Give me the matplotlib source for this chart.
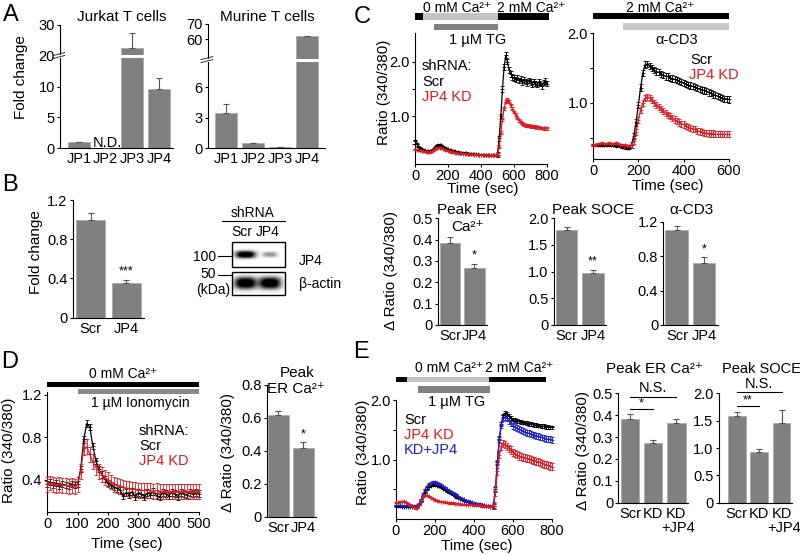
import numpy as np
import matplotlib
matplotlib.use('Agg')
import matplotlib.pyplot as plt
from matplotlib.patches import Rectangle
from matplotlib.transforms import blended_transform_factory

plt.rcParams['font.family'] = ['Liberation Sans', 'DejaVu Sans']
plt.rcParams['axes.linewidth'] = 0.8

# ---------------- data ----------------
jp_labels = ['JP1', 'JP2', 'JP3', 'JP4']
jurkat_vals = [1.0, 0.0, 22.4, 9.6]
jurkat_err = [0.08, 0.0, 4.8, 1.8]
murine_vals = [3.44, 0.50, 0.10, 62.0]
murine_err = [0.95, 0.05, 0.02, 0.4]

two_labels = ['Scr', 'JP4']
b_vals = [1.0, 0.35]
b_err = [0.07, 0.035]
blot_jp4 = [1.0, 0.35]
blot_actin = [1.0, 1.0]

c_er_vals = [0.386, 0.266]
c_er_err = [0.025, 0.02]
c_soce_vals = [1.77, 0.98]
c_soce_err = [0.07, 0.05]
c_cd3_vals = [1.10, 0.72]
c_cd3_err = [0.05, 0.07]

d_bar_vals = [0.62, 0.42]
d_bar_err = [0.025, 0.035]

three_labels = ['Scr', 'KD', 'KD']
three_sub = '+JP4'
e_er_vals = [0.381, 0.271, 0.363]
e_er_err = [0.024, 0.016, 0.018]
e_soce_vals = [1.59, 0.92, 1.45]
e_soce_err = [0.06, 0.06, 0.25]

# traces (10 s sampling)
t_c1 = np.arange(0, 801, 10)
c1_scr = [0.56, 0.50, 0.45, 0.42, 0.40, 0.39, 0.38, 0.37, 0.37, 0.37,
          0.38, 0.40, 0.43, 0.46, 0.48, 0.48, 0.47, 0.45, 0.43, 0.41,
          0.40, 0.39, 0.38, 0.37, 0.36, 0.35, 0.35, 0.34, 0.34, 0.33,
          0.33, 0.33, 0.32, 0.32, 0.32, 0.31, 0.31, 0.31, 0.31, 0.30,
          0.30, 0.30, 0.30, 0.30, 0.29, 0.29, 0.29, 0.29, 0.29, 0.29,
          0.30, 0.60, 1.00, 1.50, 1.90, 2.12, 2.00, 1.85, 1.78, 1.72,
          1.70, 1.68, 1.71, 1.66, 1.69, 1.63, 1.67, 1.64, 1.61, 1.66,
          1.63, 1.59, 1.64, 1.60, 1.58, 1.63, 1.60, 1.56, 1.62, 1.65,
          1.60]
c1_kd = [0.40, 0.39, 0.38, 0.37, 0.37, 0.36, 0.36, 0.35, 0.35, 0.35,
         0.36, 0.38, 0.40, 0.42, 0.43, 0.43, 0.42, 0.41, 0.39, 0.38,
         0.37, 0.36, 0.35, 0.35, 0.34, 0.34, 0.33, 0.33, 0.33, 0.32,
         0.32, 0.32, 0.31, 0.31, 0.31, 0.31, 0.30, 0.30, 0.30, 0.30,
         0.30, 0.30, 0.29, 0.29, 0.29, 0.29, 0.29, 0.29, 0.29, 0.29,
         0.30, 0.45, 0.70, 0.95, 1.15, 1.27, 1.31, 1.27, 1.20, 1.14,
         1.08, 1.03, 0.97, 0.93, 0.90, 0.87, 0.85, 0.84, 0.83, 0.83,
         0.82, 0.82, 0.81, 0.81, 0.80, 0.80, 0.79, 0.79, 0.78, 0.78,
         0.78]
c1_err_scr = (0.012, 0.05)
c1_err_kd = (0.01, 0.025)

t_c2 = np.arange(0, 601, 10)
c2_scr = [0.40, 0.40, 0.40, 0.39, 0.40, 0.39, 0.39, 0.40, 0.39, 0.39,
          0.38, 0.39, 0.38, 0.37, 0.36, 0.35, 0.35, 0.40, 0.52, 0.72,
          0.97, 1.22, 1.43, 1.55, 1.56, 1.53, 1.50, 1.47, 1.45, 1.44,
          1.42, 1.40, 1.38, 1.38, 1.36, 1.35, 1.34, 1.33, 1.31, 1.30,
          1.29, 1.27, 1.26, 1.25, 1.24, 1.23, 1.21, 1.20, 1.19, 1.18,
          1.17, 1.15, 1.14, 1.12, 1.11, 1.10, 1.08, 1.07, 1.06, 1.06,
          1.05]
c2_kd = [0.40, 0.40, 0.41, 0.41, 0.42, 0.41, 0.41, 0.42, 0.41, 0.41,
         0.42, 0.41, 0.40, 0.40, 0.39, 0.38, 0.38, 0.40, 0.45, 0.58,
         0.75, 0.90, 1.00, 1.07, 1.09, 1.07, 1.04, 1.00, 0.97, 0.94,
         0.91, 0.88, 0.85, 0.83, 0.81, 0.78, 0.76, 0.74, 0.72, 0.70,
         0.69, 0.67, 0.65, 0.64, 0.63, 0.62, 0.60, 0.59, 0.58, 0.57,
         0.57, 0.56, 0.56, 0.56, 0.55, 0.55, 0.55, 0.55, 0.55, 0.55,
         0.55]
c2_err_scr = (0.015, 0.045)
c2_err_kd = (0.015, 0.045)

t_d = np.arange(0, 501, 10)
d_scr = [0.36, 0.38, 0.35, 0.37, 0.34, 0.36, 0.35, 0.34, 0.36, 0.35,
         0.36, 0.50, 0.78, 0.93, 0.90, 0.72, 0.58, 0.50, 0.45, 0.41,
         0.37, 0.35, 0.33, 0.32, 0.30, 0.25, 0.28, 0.26, 0.29, 0.24,
         0.28, 0.27, 0.24, 0.28, 0.26, 0.29, 0.25, 0.24, 0.28, 0.27,
         0.25, 0.28, 0.27, 0.24, 0.28, 0.27, 0.26, 0.28, 0.27, 0.28,
         0.27]
d_kd = [0.36, 0.37, 0.36, 0.35, 0.36, 0.35, 0.35, 0.34, 0.35, 0.34,
        0.36, 0.48, 0.70, 0.71, 0.64, 0.57, 0.52, 0.48, 0.45, 0.42,
        0.40, 0.38, 0.36, 0.35, 0.34, 0.33, 0.32, 0.32, 0.31, 0.31,
        0.30, 0.30, 0.30, 0.30, 0.30, 0.29, 0.30, 0.29, 0.29, 0.29,
        0.29, 0.29, 0.29, 0.29, 0.29, 0.29, 0.29, 0.29, 0.29, 0.29,
        0.29]
d_err_scr = (0.03, 0.03)
d_err_kd = (0.07, 0.07)

t_e = np.arange(0, 801, 10)
e_scr = [0.22, 0.22, 0.22, 0.21, 0.21, 0.21, 0.21, 0.21, 0.21, 0.21,
         0.21, 0.22, 0.24, 0.30, 0.38, 0.45, 0.50, 0.54, 0.56, 0.57,
         0.57, 0.56, 0.55, 0.53, 0.51, 0.49, 0.47, 0.45, 0.43, 0.41,
         0.39, 0.37, 0.36, 0.34, 0.33, 0.31, 0.30, 0.29, 0.28, 0.27,
         0.26, 0.25, 0.25, 0.24, 0.23, 0.23, 0.22, 0.22, 0.21, 0.21,
         0.22, 0.50, 0.95, 1.35, 1.60, 1.74, 1.78, 1.76, 1.73, 1.70,
         1.67, 1.66, 1.65, 1.64, 1.63, 1.62, 1.62, 1.61, 1.60, 1.60,
         1.59, 1.58, 1.58, 1.57, 1.57, 1.56, 1.56, 1.55, 1.55, 1.54,
         1.54]
e_kd = [0.28, 0.28, 0.29, 0.29, 0.30, 0.28, 0.26, 0.24, 0.22, 0.20,
        0.18, 0.19, 0.24, 0.32, 0.38, 0.40, 0.40, 0.38, 0.36, 0.34,
        0.32, 0.31, 0.30, 0.29, 0.29, 0.28, 0.28, 0.27, 0.27, 0.27,
        0.26, 0.26, 0.26, 0.25, 0.25, 0.25, 0.24, 0.24, 0.24, 0.24,
        0.23, 0.23, 0.23, 0.23, 0.22, 0.22, 0.22, 0.22, 0.21, 0.21,
        0.22, 0.45, 0.80, 1.08, 1.22, 1.27, 1.25, 1.22, 1.19, 1.16,
        1.12, 1.10, 1.08, 1.06, 1.05, 1.04, 1.03, 1.02, 1.01, 1.00,
        0.99, 0.98, 0.97, 0.96, 0.95, 0.94, 0.92, 0.91, 0.90, 0.89,
        0.88]
e_res = [0.23, 0.23, 0.23, 0.22, 0.22, 0.22, 0.22, 0.22, 0.22, 0.22,
         0.22, 0.23, 0.26, 0.33, 0.42, 0.50, 0.55, 0.59, 0.61, 0.62,
         0.62, 0.61, 0.59, 0.57, 0.55, 0.53, 0.50, 0.48, 0.46, 0.44,
         0.42, 0.40, 0.38, 0.36, 0.34, 0.33, 0.31, 0.30, 0.29, 0.28,
         0.27, 0.26, 0.25, 0.25, 0.24, 0.23, 0.23, 0.22, 0.22, 0.21,
         0.22, 0.50, 0.95, 1.35, 1.58, 1.70, 1.72, 1.69, 1.65, 1.61,
         1.57, 1.55, 1.53, 1.51, 1.49, 1.48, 1.46, 1.45, 1.44, 1.43,
         1.42, 1.41, 1.40, 1.39, 1.38, 1.37, 1.36, 1.35, 1.34, 1.34,
         1.33]
e_err_scr = (0.01, 0.03)
e_err_kd = (0.01, 0.06)
e_err_res = (0.012, 0.05)

# protocol timings (sec)
c1_phases = [(0, 48, 'k'), (48, 503, '#c4c4c4'), (503, 810, 'k')]
c1_drug = (115, 503)
c2_phases = [(0, 600, 'k')]
c2_drug = (132, 600)
d_phases = [(0, 500, 'k')]
d_drug = (100, 500)
e_phases = [(0, 55, 'k'), (55, 478, '#c4c4c4'), (478, 769, 'k')]
e_drug = (113, 482)

# ---------------- figure ----------------
W, H = 800, 555
fig = plt.figure(figsize=(W / 100, H / 100), dpi=100)
BAR = '#808080'
RED = '#e3191f'
BLUE = '#1c1cd6'
AX_PX = {}
CA = 'Ca²⁺'


def add_ax(x0, y0, x1, y1):
    ax = fig.add_axes([x0 / W, 1 - y1 / H, (x1 - x0) / W, (y1 - y0) / H])
    AX_PX[id(ax)] = (x0, y0, x1, y1)
    for s in ('top', 'right'):
        ax.spines[s].set_visible(False)
    ax.tick_params(direction='out', length=2.5, width=0.8, labelsize=10.5, pad=1.2)
    ax.patch.set_alpha(0)
    return ax


def ftext(x, y, s, ha='center', va='center', size=10.5, **kw):
    fig.text(x / W, 1 - y / H, s, ha=ha, va=va, fontsize=size, **kw)


def bars(ax, vals, errs, width, xlim, ylim, yticks, yticklabels, xlabels, xsize=10.5):
    x = np.arange(len(vals))
    ax.bar(x, vals, width, color=BAR, edgecolor='#a8a8a8', lw=0.5, zorder=2)
    ax.errorbar(x, vals, yerr=[np.zeros(len(vals)), errs], fmt='none',
                ecolor='#555555', elinewidth=0.8, capsize=2.5, capthick=0.8, zorder=3)
    ax.set_xlim(*xlim)
    ax.set_ylim(*ylim)
    ax.set_yticks(yticks, yticklabels)
    ax.set_xticks(x, xlabels)
    ax.tick_params(axis='x', length=0, pad=3, labelsize=xsize)


def make_err(t, onset, pair):
    return np.where(np.asarray(t) < onset, pair[0], pair[1])


def trace(ax, t, y, err, color):
    ax.errorbar(t, y, yerr=err, color=color, lw=0.9, elinewidth=0.6, capsize=1.2,
                capthick=0.6, marker='+', ms=3, mew=0.6, zorder=3, clip_on=False)


def proto_bar(ax, t0, t1, ytop, ybot, color):
    x0, y0, x1, y1 = AX_PX[id(ax)]
    fb = (y1 - ybot) / (y1 - y0)
    ft = (y1 - ytop) / (y1 - y0)
    tr = blended_transform_factory(ax.transData, ax.transAxes)
    ax.add_patch(Rectangle((t0, fb), t1 - t0, ft - fb, transform=tr,
                           facecolor=color, lw=0, clip_on=False))


def broken_scale(lo_top, hi_bot, ratio):
    xs = [-1000.0, lo_top, hi_bot, 1000.0]
    ys = [-1000.0, lo_top, lo_top + 0.04, lo_top + 0.04 + (1000.0 - hi_bot) * ratio]
    fwd = lambda v: np.interp(v, xs, ys)
    inv = lambda v: np.interp(v, ys, xs)
    return fwd, inv


def break_marks(ax, yb):
    disp = ax.transData.transform((0, yb))
    fy = ax.transAxes.inverted().transform(disp)[1]
    tr = blended_transform_factory(ax.transAxes, ax.transData)
    ax.plot([-0.03, 1.0], [yb, yb], transform=tr, color='white', lw=2.2,
            clip_on=False, zorder=5)
    for dy in (-0.012, 0.012):
        ax.plot([-0.06, 0.04], [fy + dy - 0.012, fy + dy + 0.012], transform=ax.transAxes,
                color='#333333', lw=0.7, clip_on=False, zorder=6)


# ----- Panel A -----
ftext(11, 15, 'A', size=17)
axj = add_ax(60, 24.5, 173, 148.3)
f, i = broken_scale(15, 20, 0.5)
axj.set_yscale('function', functions=(f, i))
bars(axj, jurkat_vals, jurkat_err, 0.82, (-0.71, 3.52), (0, 30),
     [0, 5, 10, 20, 30], ['0', '5', '10', '20', '30'], jp_labels)
break_marks(axj, 17.5)
ftext(107, 143, 'N.D.', size=10.5)
ftext(122, 17, 'Jurkat T cells', size=11)
ftext(21, 77, 'Fold change', size=11, rotation=90)

axm = add_ax(208, 23.5, 325, 148.3)
f, i = broken_scale(8.7, 47.5, 0.157)
axm.set_yscale('function', functions=(f, i))
bars(axm, murine_vals, murine_err, 0.82, (-0.67, 3.67), (0, 70),
     [0, 3, 6, 60, 70], ['0', '3', '6', '60', '70'], jp_labels)
break_marks(axm, 30)
ftext(267, 17, 'Murine T cells', size=11)

# ----- Panel B -----
ftext(10, 185, 'B', size=17)
axb = add_ax(72.5, 200, 144.5, 317.7)
bars(axb, b_vals, b_err, 0.82, (-0.5, 1.5), (0, 1.2),
     [0, 0.4, 0.8, 1.2], ['0', '0.4', '0.8', '1.2'], two_labels)
axb.text(1, b_vals[1] + b_err[1] + 0.03, '***', ha='center', va='bottom', fontsize=9)
ftext(36, 252, 'Fold change', size=11, rotation=90)

# western blot
axw = fig.add_axes([195 / W, 1 - 300 / H, 150 / W, 95 / H])
axw.set_xlim(195, 345)
axw.set_ylim(300, 205)
axw.axis('off')


def blot_box(y0, y1, intens, sx, sy):
    x0, x1 = 232, 285
    xs = np.linspace(x0, x1, 220)
    ys = np.linspace(y0, y1, 110)
    X, Y = np.meshgrid(xs, ys)
    Z = np.zeros_like(X)
    cy = (y0 + y1) / 2
    for cx, inten, w in zip((245.5, 270.0), intens, sx):
        hw = w * (0.6 + 0.4 * inten)
        hh = sy * (0.6 + 0.4 * inten)
        Z += inten * np.exp(-(np.abs((X - cx) / hw) ** 3 + np.abs((Y - cy) / hh) ** 2.5))
    axw.imshow(np.clip(Z, 0, 1), extent=(x0, x1, y1, y0), cmap='gray_r', vmin=0, vmax=0.8,
               aspect='auto', interpolation='bilinear', zorder=1)
    axw.add_patch(Rectangle((x0, y0), x1 - x0, y1 - y0, fill=False, lw=1.0, ec='k', zorder=2))


blot_box(241.7, 266.7, blot_jp4, (10, 10), 3.6)
blot_box(271.7, 295, blot_actin, (11, 11), 5.8)
axw.plot([222, 285], [221, 221], color='k', lw=0.8)
axw.plot([218, 231], [256.5, 256.5], color='k', lw=0.8)
axw.plot([218, 231], [275, 275], color='k', lw=0.8)
ftext(253, 213, 'shRNA', size=10)
ftext(242, 232, 'Scr', size=10)
ftext(268, 232, 'JP4', size=10)
ftext(216, 257, '100', ha='right', size=10)
ftext(216, 274, '50', ha='right', size=10)
ftext(213, 290, '(kDa)', size=10)
ftext(299, 261, 'JP4', ha='left', size=10)
ftext(299, 284, 'β-actin', ha='left', size=10)

# ----- Panel C traces -----
ftext(362, 17, 'C', size=17)
axc1 = add_ax(415, 33.3, 547, 164)
axc1.set_xlim(0, 800)
axc1.set_ylim(0.13, 2.52)
trace(axc1, t_c1, c1_scr, make_err(t_c1, 500, c1_err_scr), 'k')
trace(axc1, t_c1, c1_kd, make_err(t_c1, 500, c1_err_kd), RED)
axc1.set_xticks([0, 200, 400, 600, 800])
axc1.set_yticks([0.5, 1.0, 1.5, 2.0], ['', '1.0', '', '2.0'])
for a, b, c in c1_phases:
    proto_bar(axc1, a, b, 13, 20, c)
proto_bar(axc1, c1_drug[0], c1_drug[1], 24, 30, '#808080')
ftext(457, 8, '0 mM ' + CA, size=10)
ftext(531, 8, '2 mM ' + CA, size=10)
ftext(478, 40, '1 µM TG', size=10.5)
ftext(422, 66, 'shRNA:', ha='left', size=10.5)
ftext(422, 82, 'Scr', ha='left', size=10.5)
ftext(422, 97, 'JP4 KD', ha='left', size=10.5, color=RED)
ftext(384, 92, 'Ratio (340/380)', size=11, rotation=90)
ftext(483, 189, 'Time (sec)', size=11)

axc2 = add_ax(593, 33.3, 729, 159.3)
axc2.set_xlim(0, 600)
axc2.set_ylim(0.19, 2.0)
trace(axc2, t_c2, c2_scr, make_err(t_c2, 170, c2_err_scr), 'k')
trace(axc2, t_c2, c2_kd, make_err(t_c2, 170, c2_err_kd), RED)
axc2.set_xticks([0, 200, 400, 600])
axc2.set_yticks([0.5, 1.0, 1.5, 2.0], ['', '1.0', '', '2.0'])
for a, b, c in c2_phases:
    proto_bar(axc2, a, b, 12.7, 19, c)
proto_bar(axc2, c2_drug[0], c2_drug[1], 23, 30, '#c8c8c8')
ftext(660, 8, '2 mM ' + CA, size=10)
ftext(677, 40, 'α-CD3', size=10.5)
ftext(690, 60, 'Scr', ha='left', size=10.5)
ftext(689, 75, 'JP4 KD', ha='left', size=10.5, color=RED)
ftext(668, 186, 'Time (sec)', size=11)

# ----- Panel C bars -----
axc3 = add_ax(437.7, 218.3, 486.7, 325)
bars(axc3, c_er_vals, c_er_err, 0.84, (-0.5, 1.5), (0, 0.5),
     [0, 0.1, 0.2, 0.3, 0.4, 0.5], ['0', '0.1', '0.2', '0.3', '0.4', '0.5'], two_labels)
axc3.text(1, c_er_vals[1] + c_er_err[1] + 0.01, '*', ha='center', va='bottom', fontsize=9)
ftext(467, 210, 'Peak ER', size=11)
ftext(467, 227, CA, size=11)
ftext(391, 270, 'Δ Ratio (340/380)', size=11, rotation=90)

axc4 = add_ax(553.5, 218, 606, 325)
bars(axc4, c_soce_vals, c_soce_err, 0.82, (-0.5, 1.5), (0, 2.0),
     [0, 0.5, 1.0, 1.5, 2.0], ['0', '0.5', '1.0', '1.5', '2.0'], two_labels)
axc4.text(1, c_soce_vals[1] + c_soce_err[1] + 0.04, '**', ha='center', va='bottom', fontsize=9)
ftext(593, 210, 'Peak SOCE', size=11)

axc5 = add_ax(663.3, 221.7, 717.6, 325)
bars(axc5, c_cd3_vals, c_cd3_err, 0.84, (-0.5, 1.5), (0, 1.2),
     [0, 0.4, 0.8, 1.2], ['0', '0.4', '0.8', '1.2'], two_labels)
axc5.text(1, c_cd3_vals[1] + c_cd3_err[1] + 0.02, '*', ha='center', va='bottom', fontsize=9)
ftext(692, 210, 'α-CD3', size=11)

# ----- Panel D -----
ftext(10, 362, 'D', size=17)
axd = add_ax(47.3, 391.7, 199, 511.7)
axd.set_xlim(0, 500)
axd.set_ylim(0.1, 1.23)
trace(axd, t_d, d_scr, make_err(t_d, 100, d_err_scr), 'k')
trace(axd, t_d, d_kd, make_err(t_d, 100, d_err_kd), RED)
axd.set_xticks([0, 100, 200, 300, 400, 500])
axd.set_yticks([0.4, 0.8, 1.2], ['0.4', '0.8', '1.2'])
for a, b, c in d_phases:
    proto_bar(axd, a, b, 381.7, 386.7, c)
proto_bar(axd, d_drug[0], d_drug[1], 389, 394, '#8a8a8a')
ftext(123, 374, '0 mM ' + CA, size=10)
ftext(140, 403, '1 µM Ionomycin', size=10)
ftext(139, 431, 'shRNA:', ha='left', size=10.5)
ftext(139, 446, 'Scr', ha='left', size=10.5)
ftext(139, 461, 'JP4 KD', ha='left', size=10.5, color=RED)
ftext(9, 450, 'Ratio (340/380)', size=11, rotation=90)
ftext(127, 544, 'Time (sec)', size=11)

axd2 = add_ax(266.7, 385, 316, 516.7)
bars(axd2, d_bar_vals, d_bar_err, 0.81, (-0.47, 1.5), (0, 0.8),
     [0, 0.2, 0.4, 0.6, 0.8], ['0', '0.2', '0.4', '0.6', '0.8'], two_labels)
axd2.text(1, d_bar_vals[1] + d_bar_err[1] + 0.01, '*', ha='center', va='bottom', fontsize=9)
ftext(297, 373, 'Peak', size=11)
ftext(296, 389, 'ER ' + CA, size=11)
ftext(228, 453, 'Δ Ratio (340/380)', size=11, rotation=90)

# ----- Panel E -----
ftext(361, 352, 'E', size=17)
axe = add_ax(396, 400, 552, 519)
axe.set_xlim(0, 800)
axe.set_ylim(0, 2.0)
trace(axe, t_e, e_scr, make_err(t_e, 500, e_err_scr), 'k')
trace(axe, t_e, e_res, make_err(t_e, 500, e_err_res), BLUE)
trace(axe, t_e, e_kd, make_err(t_e, 500, e_err_kd), RED)
axe.set_xticks([0, 200, 400, 600, 800])
axe.set_yticks([0.5, 1.0, 1.5, 2.0], ['', '1.0', '', '2.0'])
for a, b, c in e_phases:
    proto_bar(axe, a, b, 376.7, 381.7, c)
proto_bar(axe, e_drug[0], e_drug[1], 386, 392.7, '#808080')
ftext(449, 368, '0 mM ' + CA, size=10)
ftext(519, 368, '2 mM ' + CA, size=10)
ftext(457, 402, '1 µM TG', size=10.5)
ftext(404, 420, 'Scr', ha='left', size=10.5)
ftext(404, 435, 'JP4 KD', ha='left', size=10.5, color=RED)
ftext(404, 450, 'KD+JP4', ha='left', size=10.5, color=BLUE)
ftext(363, 452, 'Ratio (340/380)', size=11, rotation=90)
ftext(477, 546, 'Time (sec)', size=11)

axe2 = add_ax(618.3, 393.3, 688, 502.7)
bars(axe2, e_er_vals, e_er_err, 0.8, (-0.5, 2.5), (0, 0.5),
     [0, 0.1, 0.2, 0.3, 0.4, 0.5], ['0', '0.1', '0.2', '0.3', '0.4', '0.5'], three_labels)
axe2.plot([0, 1], [0.427, 0.427], color='k', lw=0.8, clip_on=False)
axe2.plot([0, 2], [0.484, 0.484], color='k', lw=0.8, clip_on=False)
axe2.text(0.5, 0.425, '*', ha='center', va='bottom', fontsize=9)
axe2.text(1, 0.49, 'N.S.', ha='center', va='bottom', fontsize=10.5)
ftext(678, 528, three_sub, size=10.5)
ftext(654, 369, 'Peak ER ' + CA, size=11)
ftext(583, 450, 'Δ Ratio (340/380)', size=11, rotation=90)

axe3 = add_ax(718.5, 393.3, 792, 502.7)
bars(axe3, e_soce_vals, e_soce_err, 0.8, (-0.82, 2.47), (0, 2.0),
     [0, 0.5, 1.0, 1.5, 2.0], ['0', '0.5', '1.0', '1.5', '2.0'], three_labels)
axe3.plot([0, 1], [1.77, 1.77], color='k', lw=0.8, clip_on=False)
axe3.plot([0, 2], [2.03, 2.03], color='k', lw=0.8, clip_on=False)
axe3.text(0.5, 1.76, '**', ha='center', va='bottom', fontsize=9)
axe3.text(1, 2.05, 'N.S.', ha='center', va='bottom', fontsize=10.5)
ftext(784, 528, three_sub, size=10.5)
ftext(761, 369, 'Peak SOCE', size=10.5)

fig.savefig('out.png', dpi=100)
